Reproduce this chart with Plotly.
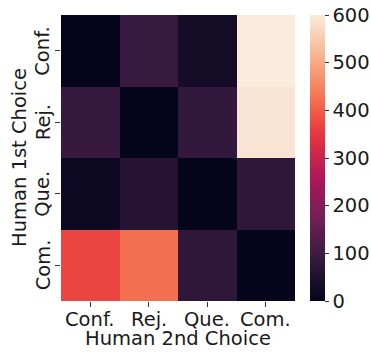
import plotly.graph_objects as go

x_labels = ["Conf.", "Rej.", "Que.", "Com."]
y_labels = ["Conf.", "Rej.", "Que.", "Com."]
z_values = [
    [2, 90, 30, 600],
    [88, 1, 80, 590],
    [18, 60, 1, 75],
    [370, 420, 75, 3],
]
cbar_ticks = [0, 100, 200, 300, 400, 500, 600]
x_title = "Human 2nd Choice"
y_title = "Human 1st Choice"

# approximation of seaborn's "rocket" colormap
rocket = [
    [0.0, "#03051a"],
    [1/7, "#35193e"],
    [2/7, "#701f57"],
    [3/7, "#ad1759"],
    [4/7, "#e13342"],
    [0.617, "#eb4541"],
    [5/7, "#f37651"],
    [6/7, "#f6b48f"],
    [1.0, "#faebdd"],
]

font = dict(family="DejaVu Sans", size=19.5, color="#1a1a1a")

# plot area in pixels: x 61..295, y 15..301
L, R, T, B = 61, 295, 15, 301
W, H = R - L, B - T

def px_x(p):
    return (p - L) / W

def px_y(p):
    return (B - p) / H

fig = go.Figure(go.Heatmap(
    z=z_values, x=x_labels, y=y_labels,
    colorscale=rocket, zmin=0, zmax=600,
    xgap=0, ygap=0, hoverinfo="skip",
    colorbar=dict(
        x=px_x(310), xanchor="left", xref="paper",
        y=0.5, yanchor="middle", len=1, lenmode="fraction",
        thickness=15, outlinewidth=0, xpad=0, ypad=0,
        tickvals=cbar_ticks,
        ticks="outside", ticklen=4, tickcolor="#333",
        tickfont=font,
    ),
))

annotations = []
for lab in x_labels:
    annotations.append(dict(x=lab, y=px_y(319), xref="x", yref="paper",
                            text=lab, showarrow=False, font=font,
                            xanchor="center", yanchor="middle"))
for lab in y_labels:
    annotations.append(dict(x=px_x(43), y=lab, xref="paper", yref="y",
                            text=lab, showarrow=False, font=font, textangle=-90,
                            xanchor="center", yanchor="middle"))
annotations.append(dict(x=0.5, y=px_y(338), xref="paper", yref="paper",
                        text=x_title, showarrow=False, font=font,
                        xanchor="center", yanchor="middle"))
annotations.append(dict(x=px_x(19), y=0.5, xref="paper", yref="paper",
                        text=y_title, showarrow=False, font=font, textangle=-90,
                        xanchor="center", yanchor="middle"))

fig.update_layout(
    width=371, height=353,
    margin=dict(l=L, r=371 - R, t=T, b=353 - B, autoexpand=False),
    paper_bgcolor="white", plot_bgcolor="white",
    font=font, annotations=annotations,
)
fig.update_xaxes(
    ticks="outside", ticklen=5, tickcolor="#333", showticklabels=False,
    showgrid=False, zeroline=False, automargin=False,
)
fig.update_yaxes(
    autorange="reversed",
    ticks="outside", ticklen=5, tickcolor="#333", showticklabels=False,
    showgrid=False, zeroline=False, automargin=False,
)

fig.write_html("out.html", config={"displayModeBar": False},
               post_script="document.body.style.margin='0';")
